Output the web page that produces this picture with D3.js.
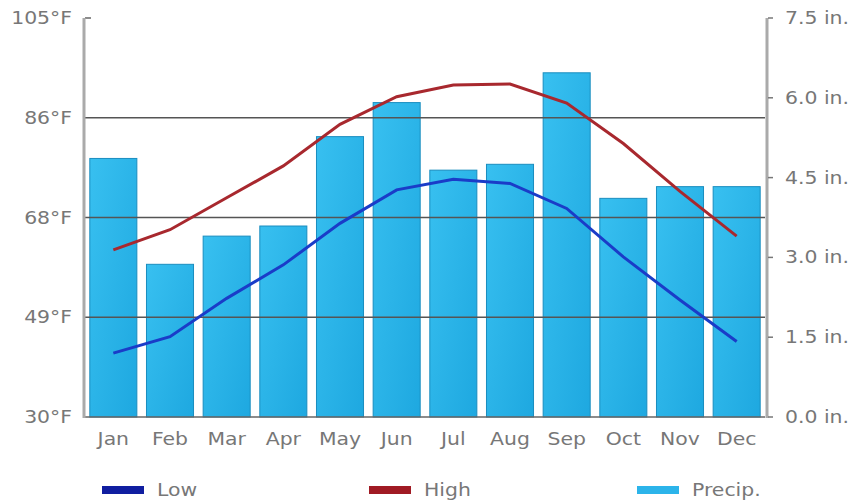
<!DOCTYPE html>
<html>
<head>
<meta charset="utf-8">
<script src="https://cdn.jsdelivr.net/npm/d3@7"></script>
<style>
  body { margin: 0; background: #fff; }
  text { font-family: "DejaVu Sans", Verdana, sans-serif; font-size: 17px; fill: #777; }
</style>
</head>
<body>
<div id="svg-holder"></div>
<script>
// data
const months = ["Jan", "Feb", "Mar", "Apr", "May", "Jun", "Jul", "Aug", "Sep", "Oct", "Nov", "Dec"];
const high = [61.4, 65.2, 71.2, 77.2, 85.0, 90.2, 92.4, 92.6, 89.0, 81.4, 72.4, 64.0];
const low = [42.0, 45.1, 52.3, 58.6, 66.4, 72.7, 74.7, 73.9, 69.2, 60.1, 52.0, 44.2];
const precip = [4.86, 2.87, 3.40, 3.59, 5.27, 5.91, 4.64, 4.75, 6.47, 4.11, 4.33, 4.33];
const tempTicks = [30, 48.75, 67.5, 86.25, 105];
const tempTickLabels = ["30°F", "49°F", "68°F", "86°F", "105°F"];
const precipTicks = [0, 1.5, 3, 4.5, 6, 7.5];
const precipTickLabels = ["0.0 in.", "1.5 in.", "3.0 in.", "4.5 in.", "6.0 in.", "7.5 in."];
const legendNames = ["Low", "High", "Precip."];

let svg = d3.select("#svg-holder").append('svg')
  .attr("width", 858)
  .attr("height", 500)

const plotLeft = 85, plotRight = 765, plotTop = 18, plotBottom = 417
const stretch = 1.2 // text in the picture is drawn wide

let x = d3.scaleBand().domain(months).range([plotLeft, plotRight]).paddingInner(0.17).paddingOuter(0.085)
let yT = d3.scaleLinear().domain([30, 105]).range([plotBottom, plotTop])
let yP = d3.scaleLinear().domain([0, 7.5]).range([plotBottom, plotTop])

function label(px, py, str, anchor) {
  svg.append("text")
    .attr("transform", `translate(${px},${py}) scale(${stretch},1)`)
    .attr("text-anchor", anchor)
    .text(str)
}

// gradient for the bars
let grad = svg.append("defs").append("linearGradient")
  .attr("id", "barGrad")
  .attr("x1", 0).attr("y1", 0).attr("x2", 1).attr("y2", 1)
grad.append("stop").attr("offset", "0%").attr("stop-color", "#38c0f0")
grad.append("stop").attr("offset", "100%").attr("stop-color", "#1ea8e0")

// bars
svg.selectAll("rect.bar")
  .data(precip)
  .join("rect")
  .attr("class", "bar")
  .attr("x", (d, i) => x(months[i]))
  .attr("y", d => yP(d))
  .attr("width", x.bandwidth())
  .attr("height", d => yP(0) - yP(d))
  .attr("fill", "url(#barGrad)")
  .attr("stroke", "#1a8dbf")
  .attr("stroke-width", 1)

// gridlines (drawn over bars)
svg.selectAll("line.grid")
  .data(tempTicks.slice(1, -1))
  .join("line")
  .attr("class", "grid")
  .attr("x1", plotLeft).attr("x2", plotRight)
  .attr("y1", d => yT(d)).attr("y2", d => yT(d))
  .attr("stroke", "#555")
  .attr("stroke-width", 1.5)

// bottom line
svg.append("line")
  .attr("x1", plotLeft).attr("x2", plotRight)
  .attr("y1", plotBottom).attr("y2", plotBottom)
  .attr("stroke", "#666")
  .attr("stroke-width", 1.5)

// top tick on the left axis
svg.append("line")
  .attr("x1", plotLeft).attr("x2", plotLeft + 6)
  .attr("y1", yT(105)).attr("y2", yT(105))
  .attr("stroke", "#666")
  .attr("stroke-width", 1.5)

// left and right axis lines
svg.append("line")
  .attr("x1", plotLeft - 1).attr("x2", plotLeft - 1)
  .attr("y1", plotTop).attr("y2", plotBottom + 1)
  .attr("stroke", "#aaa")
  .attr("stroke-width", 3)
svg.append("line")
  .attr("x1", plotRight + 2).attr("x2", plotRight + 2)
  .attr("y1", plotTop).attr("y2", plotBottom + 1)
  .attr("stroke", "#aaa")
  .attr("stroke-width", 3)

// right ticks
svg.selectAll("line.rtick")
  .data(precipTicks)
  .join("line")
  .attr("class", "rtick")
  .attr("x1", plotRight + 3).attr("x2", plotRight + 8)
  .attr("y1", d => yP(d)).attr("y2", d => yP(d))
  .attr("stroke", "#777")
  .attr("stroke-width", 1.5)

// temperature lines
let line = d3.line()
  .x((d, i) => x(months[i]) + x.bandwidth() / 2)
  .y(d => yT(d))

svg.append("path")
  .attr("d", line(high))
  .attr("fill", "none")
  .attr("stroke", "#a8282e")
  .attr("stroke-width", 3)
svg.append("path")
  .attr("d", line(low))
  .attr("fill", "none")
  .attr("stroke", "#1a3cc8")
  .attr("stroke-width", 3)

// axis labels
tempTicks.forEach((t, i) => label(72, yT(t) + 6, tempTickLabels[i], "end"))
precipTicks.forEach((t, i) => label(785, yP(t) + 6, precipTickLabels[i], "start"))
months.forEach(m => label(x(m) + x.bandwidth() / 2, 445, m, "middle"))

// legend
const legendX = [102, 369, 637]
const legendColor = ["#101ea0", "#a01a24", "#2cb4ea"]
legendNames.forEach((n, i) => {
  svg.append("rect")
    .attr("x", legendX[i]).attr("y", 486)
    .attr("width", 42).attr("height", 8)
    .attr("fill", legendColor[i])
  label(legendX[i] + 55, 496, n, "start")
})
</script>
</body>
</html>
